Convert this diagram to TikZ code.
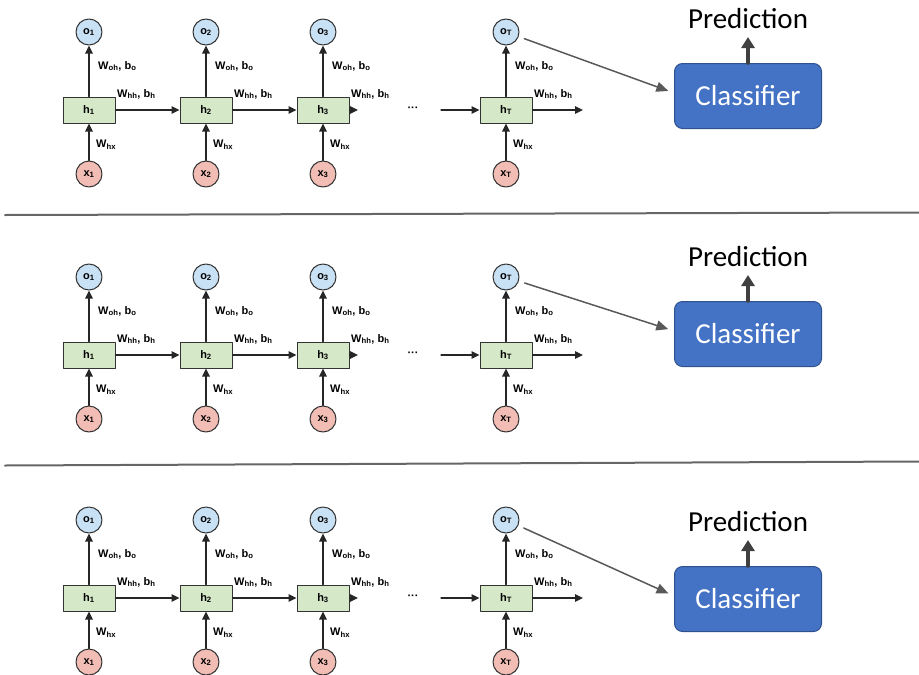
\documentclass[tikz,border=0pt]{standalone}
\usepackage{fontspec}
\newfontfamily\arialf{Liberation Sans}
\newfontfamily\calibf{Carlito}
\usetikzlibrary{arrows.meta,positioning}
\definecolor{ofill}{HTML}{C9E1F4}
\definecolor{xfill}{HTML}{F2BDB4}
\definecolor{hfill}{HTML}{D5E8C8}
\definecolor{clsblue}{HTML}{4472C4}
\definecolor{clsedge}{HTML}{2F528F}
\newcommand{\wsub}[2]{#1\textsubscript{#2}}
\tikzset{
  rnnfont/.style={font=\arialf\bfseries\fontsize{11}{13}\selectfont},
  onode/.style={circle, draw=black!80, line width=1pt, fill=ofill, minimum size=26pt, inner sep=0pt, rnnfont},
  xnode/.style={onode, fill=xfill},
  hbox/.style={rectangle, draw=black!80, line width=1pt, fill=hfill, minimum width=52pt, minimum height=26pt, inner sep=0pt, rnnfont},
  wlabel/.style={anchor=west, inner sep=0pt, rnnfont},
  conn/.style={draw=black!85, line width=1.1pt, -{Triangle[length=8pt,width=7.5pt]}},
  clsbox/.style={rectangle, rounded corners=8pt, draw=clsedge, line width=1pt, fill=clsblue, text=white, minimum width=147pt, minimum height=65pt, font=\calibf\fontsize{29}{34}\selectfont},
  predtext/.style={anchor=base, inner sep=0pt, font=\calibf\fontsize{29}{34}\selectfont},
  predarrow/.style={draw=black!75, line width=3.5pt, -{Triangle[length=11pt,width=13pt]}},
  feedarrow/.style={draw=black!65, line width=1.5pt, shorten <=6pt, shorten >=6pt, -{Triangle[length=12pt,width=10pt]}},
  sepline/.style={draw=black!60, line width=2pt}
}
\begin{document}
\begin{tikzpicture}[x=1pt, y=-1pt, line cap=round, line join=round]
  \useasboundingbox (0,0) rectangle (919,675);
  \foreach \p/\dy/\dc in {1/0/0, 2/245/238, 3/488/503} {
    \foreach \i/\xc in {1/89, 2/206, 3/323, T/506} {
      \node[onode] (o\p\i) at (\xc, 32+\dy) {o\textsubscript{\i}};
      \node[hbox] (h\p\i) at (\xc, 110+\dy) {h\textsubscript{\i}};
      \node[xnode] (x\p\i) at (\xc, 174+\dy) {x\textsubscript{\i}};
      \draw[conn] (x\p\i) -- (h\p\i);
      \draw[conn] (h\p\i) -- (o\p\i);
      \node[wlabel] (whx\p\i) at (\xc+7, 145+\dy) {\wsub{W}{hx}};
      \node[wlabel] (woh\p\i) at (\xc+9, 66+\dy) {\wsub{W}{oh}, \wsub{b}{o}};
      \node[wlabel] (whh\p\i) at (\xc+28, 94+\dy) {\wsub{W}{hh}, \wsub{b}{h}};
    }
    \coordinate (e\p) at (358, 110+\dy);
    \coordinate (s\p) at (441, 110+\dy);
    \coordinate (f\p) at (583, 110+\dy);
    \node[rnnfont] (dots\p) at (413, 109+\dy) {···};
    \draw[conn] (h\p1) -- (h\p2);
    \draw[conn] (h\p2) -- (h\p3);
    \draw[conn] (h\p3) -- (e\p);
    \draw[conn] (s\p) -- (h\p T);
    \draw[conn] (h\p T) -- (f\p);
    \node[clsbox] (cls\p) at (748, 96+\dc) {Classifier};
    \node[predtext] (pred\p) at (748, 28+\dc) {Prediction};
    \coordinate (pt\p) at (748, 37+\dc);
    \draw[predarrow] (cls\p.north) -- (pt\p);
    \draw[feedarrow] (o\p T) -- ([yshift=3pt]cls\p.west);
  }
  \draw[sepline] (5,215) -- (919,212.5);
  \draw[sepline] (5,465.5) -- (919,461.5);
\end{tikzpicture}
\end{document}
